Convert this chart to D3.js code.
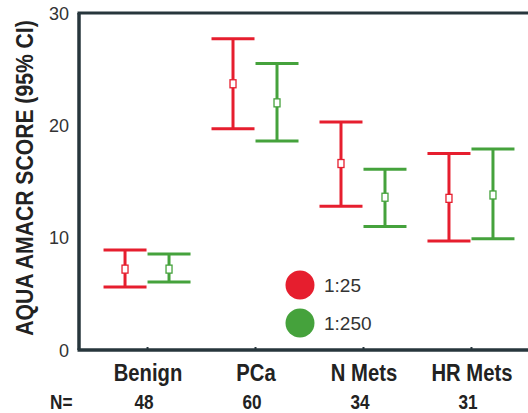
<!DOCTYPE html>
<html>
<head>
<meta charset="utf-8">
<script src="https://cdn.jsdelivr.net/npm/d3@7"></script>
<style>
  body { margin: 0; background: #fff; overflow: hidden; }
  svg { display: block; font-family: "Liberation Sans", Arial, sans-serif; }
</style>
</head>
<body>
<svg id="chart" width="528" height="413"></svg>
<script>
// Data
const categories = ["Benign", "PCa", "N Mets", "HR Mets"];
const nCounts = [48, 60, 34, 31];
const dilutions = ["1:25", "1:250"];
const mean125 = [7.2, 23.7, 16.6, 13.5];
const low125 = [5.6, 19.7, 12.8, 9.7];
const high125 = [8.9, 27.7, 20.3, 17.5];
const mean250 = [7.2, 22.0, 13.6, 13.8];
const low250 = [6.05, 18.6, 11.0, 9.9];
const high250 = [8.55, 25.5, 16.1, 17.9];
const yTicks = [0, 10, 20, 30];

const colors = { "1:25": "#e61e2e", "1:250": "#45a23c" };

const margin = { top: 13, left: 79 };
const width = 460, height = 337;

const svg = d3.select("#chart");
const g = svg.append("g").attr("transform", `translate(${margin.left},${margin.top})`);

const x = d3.scalePoint().domain(categories).range([0, width]).padding(0.63);
const offset = d3.scalePoint().domain(dilutions).range([-22, 22]);
const y = d3.scaleLinear().domain([0, 30]).range([height, 0]);

// rows: one per category x dilution
const rows = [];
categories.forEach((c, i) => {
  rows.push({ cat: c, dil: "1:25", mean: mean125[i], lo: low125[i], hi: high125[i] });
  rows.push({ cat: c, dil: "1:250", mean: mean250[i], lo: low250[i], hi: high250[i] });
});

// error bars
const bars = g.selectAll(".bar")
  .data(rows)
  .enter()
  .append("g")
  .attr("class", "bar")
  .attr("transform", d => `translate(${x(d.cat) + offset(d.dil)},0)`)
  .attr("stroke", d => colors[d.dil])
  .attr("stroke-width", 3)
  .attr("fill", "none");

bars.append("line").attr("y1", d => y(d.lo)).attr("y2", d => y(d.hi));
bars.append("line").attr("x1", -21.5).attr("x2", 21.5).attr("y1", d => y(d.hi)).attr("y2", d => y(d.hi));
bars.append("line").attr("x1", -21.5).attr("x2", 21.5).attr("y1", d => y(d.lo)).attr("y2", d => y(d.lo));
bars.append("rect")
  .attr("x", -3).attr("y", d => y(d.mean) - 4)
  .attr("width", 6).attr("height", 8)
  .attr("fill", "#fff")
  .attr("stroke-width", 1.3);

// frame: left, bottom, top
const frameColor = "#27363c";
g.append("line").attr("x1", 0).attr("x2", 0).attr("y1", 0).attr("y2", height)
  .attr("stroke", frameColor).attr("stroke-width", 3.5);
g.append("line").attr("x1", -1.5).attr("x2", width).attr("y1", height).attr("y2", height)
  .attr("stroke", frameColor).attr("stroke-width", 3.5);
g.append("line").attr("x1", -1.5).attr("x2", width).attr("y1", 0).attr("y2", 0)
  .attr("stroke", frameColor).attr("stroke-width", 3);

// y axis labels
const yAxis = g.append("g")
  .call(d3.axisLeft(y).tickValues(yTicks).tickSize(0).tickPadding(10));
yAxis.select(".domain").remove();
yAxis.selectAll("text").attr("font-size", 18).attr("fill", "#333").attr("dy", "0.35em");

// x axis ticks
const xAxis = g.append("g")
  .attr("transform", `translate(0,${height})`)
  .call(d3.axisBottom(x).tickSize(-3).tickSizeOuter(0).tickPadding(0));
xAxis.select(".domain").remove();
xAxis.selectAll(".tick line").attr("stroke", frameColor).attr("stroke-width", 2);
xAxis.selectAll("text").remove();

g.selectAll(".cat-label")
  .data(categories)
  .enter()
  .append("text")
  .attr("class", "cat-label")
  .attr("transform", d => `translate(${x(d) + 1},${height + 31}) scale(0.88,1)`)
  .attr("text-anchor", "middle")
  .attr("font-size", 23)
  .attr("font-weight", "bold")
  .attr("fill", "#222")
  .text(d => d);

g.selectAll(".n-label")
  .data(categories)
  .enter()
  .append("text")
  .attr("class", "n-label")
  .attr("transform", d => `translate(${x(d) - 3},${height + 59}) scale(0.86,1)`)
  .attr("text-anchor", "middle")
  .attr("font-size", 20)
  .attr("font-weight", "bold")
  .attr("fill", "#222")
  .text((d, i) => nCounts[i]);

svg.append("text")
  .attr("transform", "translate(50,409) scale(0.86,1)")
  .attr("font-size", 20)
  .attr("font-weight", "bold")
  .attr("fill", "#222")
  .text("N=");

// y axis title
svg.append("text")
  .attr("transform", "translate(33,178) rotate(-90) scale(0.92,1)")
  .attr("text-anchor", "middle")
  .attr("font-size", 23)
  .attr("font-weight", "bold")
  .attr("fill", "#222")
  .text("AQUA AMACR SCORE (95% CI)");

// legend
const legend = svg.append("g").attr("transform", "translate(300,285)");
const items = legend.selectAll(".item")
  .data(dilutions)
  .enter()
  .append("g")
  .attr("class", "item")
  .attr("transform", (d, i) => `translate(0,${i * 38})`);
items.append("circle").attr("r", 14.5).attr("fill", d => colors[d]);
items.append("text")
  .attr("x", 24).attr("dy", "0.36em")
  .attr("font-size", 19)
  .attr("fill", "#333")
  .text(d => d);
</script>
</body>
</html>
